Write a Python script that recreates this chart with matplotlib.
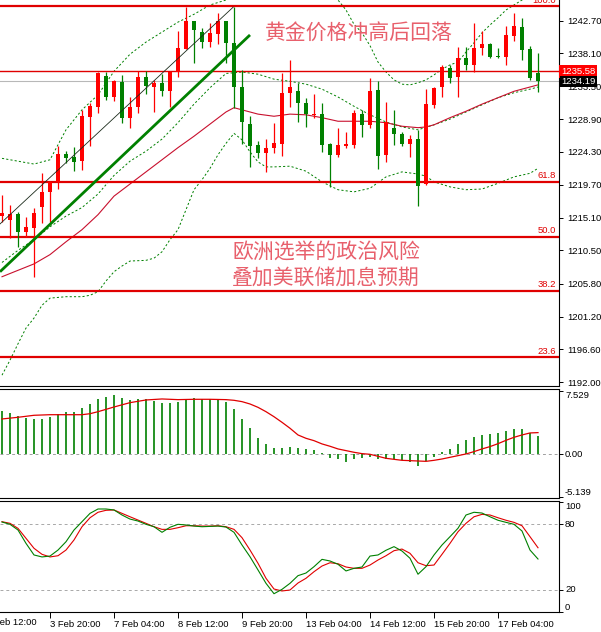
import matplotlib
matplotlib.use('Agg')
import matplotlib.pyplot as plt
from matplotlib.transforms import blended_transform_factory as blend

plt.rcParams['font.family'] = ['Liberation Sans', 'DejaVu Sans']

# ---------------- data ----------------
opens = [1215.3,1214.8,1215.6,1213.1,1213.6,1216.6,1218.7,1220.1,1224.0,1223.6,
         1223.0,1229.2,1230.6,1234.9,1232.0,1234.1,1229.1,1230.6,1234.8,1233.4,
         1234.0,1232.8,1235.5,1238.7,1242.7,1241.1,1239.7,1240.8,1242.7,1239.6,
         1233.4,1228.2,1225.3,1224.2,1224.9,1225.4,1232.6,1232.8,1231.2,1229.5,
         1229.6,1225.4,1223.9,1225.1,1225.3,1229.6,1228.1,1233.0,1223.9,1227.7,
         1226.8,1225.4,1226.1,1219.8,1230.9,1233.4,1236.1,1234.8,1237.5,1236.5,
         1238.9,1239.4,1237.8,1237.6,1240.6,1241.8,1238.7,1235.4]
highs = [1218.3,1216.9,1215.9,1215.2,1216.4,1221.3,1220.2,1225.1,1224.4,1225.0,
         1230.2,1231.2,1235.5,1235.5,1234.4,1235.1,1232.0,1235.7,1235.7,1234.4,
         1235.2,1235.7,1241.3,1244.6,1242.7,1241.7,1242.4,1243.8,1242.7,1244.6,
         1235.8,1229.3,1225.8,1226.1,1228.4,1235.4,1237.2,1234.0,1231.9,1232.4,
         1231.2,1225.6,1227.7,1227.1,1230.2,1230.2,1234.7,1234.2,1231.3,1230.2,
         1227.1,1226.7,1227.4,1233.1,1233.4,1236.5,1236.5,1239.0,1239.0,1242.4,
         1241.3,1239.6,1238.9,1242.0,1243.8,1243.1,1239.2,1238.2]
lows = [1214.5,1212.2,1211.0,1212.4,1206.8,1214.3,1214.5,1219.1,1222.8,1221.6,
        1221.8,1225.1,1229.8,1231.6,1231.4,1228.4,1227.7,1229.8,1232.4,1229.9,
        1232.1,1230.6,1234.8,1238.7,1236.8,1238.9,1239.0,1239.4,1236.8,1230.5,
        1225.4,1222.2,1223.5,1221.5,1224.2,1223.7,1230.6,1228.5,1227.8,1229.1,
        1224.3,1219.4,1223.6,1224.9,1224.9,1226.4,1227.7,1221.9,1222.9,1225.3,
        1225.1,1223.6,1216.7,1219.7,1230.5,1232.0,1234.0,1232.0,1235.8,1235.5,
        1237.9,1237.5,1237.5,1236.5,1239.9,1237.2,1234.4,1232.7]
closes = [1215.7,1215.6,1213.1,1213.8,1215.7,1218.7,1220.1,1224.0,1223.5,1222.9,
          1229.3,1230.7,1235.4,1232.0,1234.2,1229.1,1230.6,1234.8,1233.5,1234.0,
          1232.8,1235.5,1238.9,1242.7,1241.4,1239.7,1241.0,1242.7,1239.6,1233.4,
          1228.5,1225.1,1224.2,1224.9,1225.6,1232.6,1233.4,1231.2,1229.6,1229.6,
          1225.3,1223.9,1225.3,1225.4,1229.8,1228.1,1232.8,1223.7,1228.5,1226.8,
          1225.4,1226.1,1219.5,1231.0,1233.3,1236.2,1234.7,1237.5,1236.5,1238.9,
          1239.4,1237.6,1237.6,1240.7,1242.0,1238.6,1234.7,1234.19]

bb_up_idx = [0,2,4,6,7,8,9,10,12,14,16,18,20,22,24,26,28,30,32,34,36,38,40,42,43,44,45,46,47,48,49,
             50,51,52,53,54,55,56,57,58,59,60,61,62,63,64,65,66,67]
bb_up = [1223.4,1223.0,1222.6,1223.2,1225.3,1227.4,1228.8,1230.2,1232.3,1235.6,1238.0,1239.7,1241.1,
         1242.5,1243.6,1244.9,1245.6,1246.2,1246.7,1247.0,1247.0,1246.7,1246.2,1245.6,1244.2,1242.2,
         1241.0,1239.2,1236.9,1235.5,1234.4,1233.8,1233.7,1234.0,1234.4,1235.1,1235.9,1236.5,1236.9,
         1238.3,1239.6,1241.0,1242.1,1243.1,1244.2,1244.9,1245.6,1246.2,1246.7]
bb_mid_idx = [0,2,4,6,8,10,12,14,16,18,20,22,24,26,28,30,32,34,36,38,40,42,44,46,48,50,52,54,56,58,
              60,62,64,66,67]
bb_mid = [1208.8,1210.5,1212.0,1213.8,1215.3,1216.5,1218.4,1221.0,1223.0,1224.4,1226.1,1228.4,1231.0,
          1233.3,1235.3,1235.5,1235.2,1234.5,1234.2,1233.8,1233.1,1232.0,1230.7,1229.5,1228.5,1227.8,
          1227.4,1228.1,1228.9,1229.9,1230.9,1231.9,1232.6,1233.1,1233.4]
bb_low_idx = [0,1,2,3,4,5,6,8,10,11,12,13,14,15,16,18,19,20,21,22,23,24,25,26,27,28,29,30,31,32,33,
              34,36,38,40,42,44,46,48,50,52,53,54,56,58,60,62,64,66,67]
bb_low = [1193.0,1195.1,1197.4,1199.6,1201.0,1202.8,1203.8,1204.0,1204.0,1204.2,1204.7,1206.2,1207.5,
          1208.3,1209.0,1209.1,1209.4,1210.3,1212.0,1213.4,1216.2,1219.0,1220.4,1222.0,1223.9,1225.5,
          1226.9,1226.0,1224.3,1222.9,1222.2,1222.2,1222.3,1221.6,1220.1,1219.0,1218.7,1219.2,1220.8,
          1221.5,1221.2,1220.9,1220.1,1219.4,1219.0,1219.1,1219.9,1220.8,1221.3,1222.0]
ma_idx = [0,4,6,8,10,12,14,16,18,20,22,24,26,28,29,30,32,34,36,38,40,42,44,46,48,50,52,53,54,56,58,
          60,62,64,66,67]
ma = [1206.8,1208.6,1209.9,1211.7,1213.4,1215.5,1218.1,1219.8,1221.5,1223.2,1224.9,1226.5,1228.2,
      1229.9,1230.5,1230.2,1229.6,1229.3,1229.6,1229.5,1229.1,1228.6,1228.6,1228.6,1228.4,1227.9,
      1227.7,1227.8,1228.1,1229.1,1230.0,1231.0,1231.9,1232.8,1233.4,1233.7]

trend_thick_x = [-0.25, 31.0]
trend_thick_y = [1207.5, 1240.7]
trend_thin_x = [-0.25, 28.9]
trend_thin_y = [1214.2, 1244.6]

fib_labels = ['100.0', '61.8', '50.0', '38.2', '23.6']
fib_prices = [1244.7, 1220.1, 1212.4, 1204.8, 1195.5]
red_line_price = 1235.58
bid_price = 1234.19

price_ticks = [1242.70, 1238.10, 1233.50, 1228.90, 1224.30, 1219.70, 1215.10,
               1210.50, 1205.80, 1201.20, 1196.60, 1192.00]

macd_hist = [5.17,4.90,4.58,4.37,4.22,4.22,4.46,4.78,5.02,5.02,
             5.50,6.01,6.61,6.81,7.08,6.69,6.49,6.57,6.61,6.40,
             6.16,6.16,6.28,6.49,6.69,6.57,6.57,6.57,6.28,5.41,
             4.22,3.11,1.98,1.23,0.72,0.79,0.87,0.79,0.64,0.52,
             0.12,-0.40,-0.56,-0.88,-0.56,-0.48,-0.28,-0.56,-0.56,-0.56,
             -0.68,-0.88,-1.35,-0.80,-0.28,0.32,0.64,1.20,1.71,2.11,
             2.31,2.43,2.59,2.79,3.03,3.03,2.51,2.19]
macd_sig_idx = [0,2,4,6,8,10,11,12,14,16,18,20,22,24,26,28,29,30,31,32,33,34,35,36,37,
                38,39,40,41,42,43,44,45,46,47,48,49,50,51,52,53,54,55,56,57,58,59,60,61,
                62,63,64,65,66,67]
macd_sig = [4.22,4.42,4.66,4.73,4.73,4.73,4.85,5.09,5.65,6.17,6.49,6.61,6.53,6.57,6.57,6.53,6.45,
            6.29,6.01,5.61,5.09,4.49,3.82,3.11,2.31,
            1.91,1.63,1.24,0.96,0.64,0.44,0.24,0.08,0.0,-0.24,-0.48,-0.60,-0.72,-0.76,-0.80,
            -0.84,-0.72,-0.56,-0.36,-0.16,0.04,0.32,0.64,0.92,1.27,1.67,2.03,2.31,2.55,2.59]
macd_top, macd_bottom = 7.529, -5.139

stoch_k = [82.1,80.0,74.8,62.6,52.0,50.2,51.0,56.5,64.1,74.8,
           82.4,90.0,94.0,94.0,93.1,88.5,84.8,83.0,80.0,77.8,
           72.7,77.3,80.0,79.4,78.4,77.8,78.1,78.4,77.5,72.7,
           61.1,50.4,38.3,26.1,16.6,20.6,26.1,33.1,35.5,41.3,
           48.0,46.5,43.5,37.4,39.8,41.0,51.0,52.0,56.3,59.6,
           55.6,49.0,34.4,41.3,52.0,61.1,68.7,76.4,88.5,91.0,
           90.3,86.9,83.7,81.8,80.0,73.9,56.5,48.3]
stoch_d = [82.4,80.9,76.3,67.2,58.1,52.6,50.2,51.3,56.5,65.7,
           77.8,86.0,91.0,92.8,93.1,90.0,86.9,83.9,80.9,77.8,
           75.4,75.4,76.9,78.7,78.7,78.4,78.4,78.7,77.8,75.4,
           67.8,56.5,44.4,30.7,20.9,19.1,20.0,26.4,30.7,36.7,
           41.9,44.9,44.0,41.0,39.8,39.8,42.8,47.4,51.3,55.9,
           57.4,53.5,44.9,42.2,42.8,52.6,62.6,73.2,80.9,86.9,
           89.1,88.5,86.0,83.7,81.8,78.7,68.7,58.6]
stoch_levels = [80, 20]
stoch_labels = ['100', '80', '20', '0']

time_idx = [6, 14, 22, 30, 38, 46, 54, 62]
time_labels = ['3 Feb 20:00', '7 Feb 04:00', '8 Feb 12:00', '9 Feb 20:00',
               '13 Feb 04:00', '14 Feb 12:00', '15 Feb 20:00', '17 Feb 04:00']
first_time_idx = -2
first_time_label = '2 Feb 12:00'

title_text = '黄金价格冲高后回落'
note_lines = ['欧洲选举的政治风险', '叠加美联储加息预期']

# ---------------- layout ----------------
W, H = 601, 632
fig = plt.figure(figsize=(W / 100, H / 100), dpi=100)
fig.patch.set_facecolor('white')


def rect(x0, y0, x1, y1):
    return [x0 / W, 1 - y1 / H, (x1 - x0) / W, (y1 - y0) / H]


ax = fig.add_axes(rect(0, 0, 559, 386))
axm = fig.add_axes(rect(0, 389, 559, 498), sharex=ax)
axs = fig.add_axes(rect(0, 501, 559, 612), sharex=ax)

RED = '#ff0000'
GREEN = '#008000'
FS = 6.8

for a in (ax, axm, axs):
    a.set_facecolor('white')
    a.spines['left'].set_visible(False)
    for s in ('top', 'bottom', 'right'):
        a.spines[s].set_linewidth(0.8)
        a.spines[s].set_color('black')
    a.yaxis.tick_right()
    a.tick_params(axis='y', direction='out', length=3, width=0.7, pad=3, labelsize=FS)
ax.spines['top'].set_visible(False)
ax.set_xlim(-0.25, 69.625)
ax.set_ylim(1191.48, 1245.6)

# ---------------- main panel ----------------
dash = (0, (2.2, 2.2))
ax.plot(bb_up_idx, bb_up, color=GREEN, lw=0.7, ls=dash, zorder=2)
ax.plot(bb_mid_idx, bb_mid, color=GREEN, lw=0.7, ls=dash, zorder=2)
ax.plot(bb_low_idx, bb_low, color=GREEN, lw=0.7, ls=dash, zorder=2)
ax.plot(ma_idx, ma, color='#c8102e', lw=0.8, zorder=2)

for p in fib_prices:
    ax.axhline(p, color='#e00000', lw=1.6, zorder=3)
ax.axhline(red_line_price, color='#e00000', lw=1.0, zorder=3)
ax.axhline(bid_price, color='#b8b8b8', lw=0.8, zorder=1)

for i, (o, h, l, c) in enumerate(zip(opens, highs, lows, closes)):
    col = RED if c >= o else GREEN
    ax.vlines(i, l, h, color=col, lw=0.9, zorder=4)
    body = max(abs(c - o), 0.18)
    ax.bar(i, body, bottom=min(o, c), width=0.6, color=col, edgecolor=col, lw=0, zorder=5)

ax.plot(trend_thick_x, trend_thick_y, color='#008000', lw=2.0, zorder=6, solid_capstyle='butt')
ax.plot(trend_thin_x, trend_thin_y, color='#1a2a1a', lw=0.6, zorder=6)

tr = blend(ax.transAxes, ax.transData)
for lab, p in zip(fib_labels, fib_prices):
    ax.text(556 / 559, p + 0.25, lab, transform=tr, ha='right', va='bottom',
            fontsize=FS, color='#e00000', zorder=7)

ax.set_yticks(price_ticks)
ax.set_yticklabels([f'{v:.2f}' for v in price_ticks])
ax.tick_params(axis='x', bottom=False, labelbottom=False)

ax.text(1 + 2 / 559, red_line_price, f'{red_line_price:.2f}', transform=tr, ha='left', va='center',
        fontsize=FS, color='white', clip_on=False, zorder=20,
        bbox=dict(boxstyle='square,pad=0.2', fc='#ff0000', ec='none'))
ax.text(1 + 2 / 559, bid_price, f'{bid_price:.2f}', transform=tr, ha='left', va='center',
        fontsize=FS, color='white', clip_on=False, zorder=21,
        bbox=dict(boxstyle='square,pad=0.12', fc='black', ec='none'))

cjk = ['Noto Sans CJK SC', 'DejaVu Sans']
txt_col = '#e8606c'
ax.text(265 / 559, 1 - 33 / 386, title_text, transform=ax.transAxes, ha='left', va='center',
        fontsize=15, color=txt_col, family=cjk, zorder=8)
ax.text(232 / 559, 1 - 252 / 386, note_lines[0], transform=ax.transAxes, ha='left', va='center',
        fontsize=15, color=txt_col, family=cjk, zorder=8)
ax.text(232 / 559, 1 - 278 / 386, note_lines[1], transform=ax.transAxes, ha='left', va='center',
        fontsize=15, color=txt_col, family=cjk, zorder=8)

# ---------------- MACD panel ----------------
axm.set_ylim(-5.22, 7.80)
axm.axhline(0, color='#a0a0a0', lw=0.7, ls=(0, (3, 3)), zorder=1)
axm.vlines(range(len(macd_hist)), 0, macd_hist, color=GREEN, lw=1.2, zorder=2)
axm.plot(macd_sig_idx, macd_sig, color='#e00000', lw=0.9, zorder=3)
axm.set_yticks([macd_top, 0, macd_bottom])
axm.set_yticklabels(['', '', ''])
axm.tick_params(axis='x', bottom=False, labelbottom=False)
trm = blend(axm.transAxes, axm.transData)
xl = 1 + 6 / 559
axm.text(xl, macd_top, f'{macd_top:.3f}', transform=trm, ha='left', va='top', fontsize=FS, clip_on=False)
axm.text(xl, 0, '0.00', transform=trm, ha='left', va='center', fontsize=FS, clip_on=False)
axm.text(xl, macd_bottom, f'{macd_bottom:.3f}', transform=trm, ha='left', va='bottom', fontsize=FS,
         clip_on=False)

# ---------------- Stochastic panel ----------------
axs.set_ylim(-0.1, 101.3)
for lv in stoch_levels:
    axs.axhline(lv, color='#a8a8a8', lw=0.7, ls=(0, (3, 3)), zorder=1)
axs.plot(range(len(stoch_k)), stoch_k, color=GREEN, lw=0.8, zorder=3)
axs.plot(range(len(stoch_d)), stoch_d, color='#e00000', lw=0.8, zorder=2)
axs.set_yticks([100, 80, 20, 0])
axs.set_yticklabels(['', '', '', ''])
trs = blend(axs.transAxes, axs.transData)
for lab, va in zip(stoch_labels, ['top', 'center', 'center', 'bottom']):
    axs.text(xl, float(lab), lab, transform=trs, ha='left', va=va, fontsize=FS, clip_on=False)

axs.set_xticks(time_idx)
axs.set_xticklabels(time_labels, ha='left')
axs.tick_params(axis='x', direction='out', length=4, width=0.7, pad=2, labelsize=FS)
trx = blend(axs.transData, axs.transAxes)
axs.text(first_time_idx, -(6 / 111), first_time_label, transform=trx, ha='left', va='top',
         fontsize=FS, clip_on=False)

fig.savefig('out.png', dpi=100, facecolor='white')
